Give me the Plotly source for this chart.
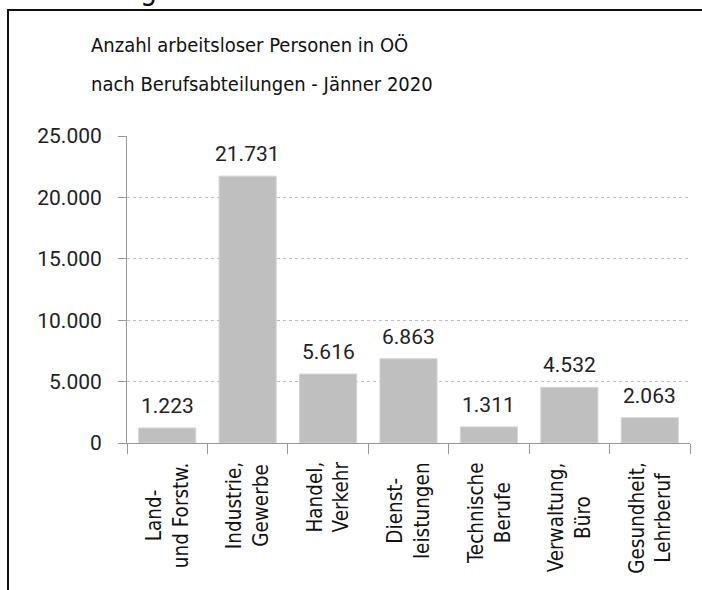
import plotly.graph_objects as go

categories = ["Land-<br>und Forstw.", "Industrie,<br>Gewerbe", "Handel,<br>Verkehr",
              "Dienst-<br>leistungen", "Technische<br>Berufe", "Verwaltung,<br>Büro",
              "Gesundheit,<br>Lehrberuf"]
values = [1223, 21731, 5616, 6863, 1311, 4532, 2063]
title_lines = ["Anzahl arbeitsloser Personen in OÖ", "nach Berufsabteilungen - Jänner 2020"]
y_ticks = [0, 5000, 10000, 15000, 20000, 25000]

W, H = 702, 590
L, R, T, B = 127, 12, 136, 147
pw, ph = W - L - R, H - T - B

def px(x):
    return (x - L) / pw

def py(y):
    return (H - B - y) / ph

NARROW = "Liberation Sans Narrow, DejaVu Sans Condensed, Roboto, sans-serif"
NUM = "Roboto, Liberation Sans, sans-serif"

def fmt(v):
    return f"{v:,}".replace(",", ".")

fig = go.Figure(go.Bar(x=categories, y=values, marker=dict(color="#bfbfbf",
                line=dict(color="#d4d4d4", width=1)), width=0.71))

annotations = []
for c, v in zip(categories, values):
    annotations.append(dict(x=c, y=v, xref="x", yref="y", text=fmt(v), showarrow=False,
                            yanchor="bottom", yshift=8, font=dict(family=NUM, size=21, color="#222")))
for c in categories:
    annotations.append(dict(x=c, y=py(460), xref="x", yref="paper", text=c, showarrow=False,
                            textangle=-90, align="center", xanchor="center", yanchor="top",
                            font=dict(family=NARROW, size=20.5, color="#111")))
for i, t in enumerate(title_lines):
    annotations.append(dict(x=px(89), y=py(45 + 39 * i), xref="paper", yref="paper", text=t,
                            showarrow=False, xanchor="left", yanchor="middle",
                            font=dict(family=NARROW, size=20, color="#111")))
annotations.append(dict(x=px(148), y=py(9), xref="paper", yref="paper", text="g", showarrow=False,
                        xanchor="center", yanchor="bottom", font=dict(family=NARROW, size=30, color="#111")))

fig.update_layout(
    width=W, height=H, margin=dict(l=L, r=R, t=T, b=B, pad=0),
    paper_bgcolor="white", plot_bgcolor="white", showlegend=False,
    separators=",.",
    annotations=annotations,
    shapes=[
        dict(type="line", xref="paper", yref="paper", x0=px(7), x1=px(702), y0=py(10), y1=py(10),
             line=dict(color="#111", width=2)),
        dict(type="line", xref="paper", yref="paper", x0=px(8), x1=px(8), y0=py(9), y1=py(590),
             line=dict(color="#111", width=2)),
    ],
    xaxis=dict(type="category", showline=True, linecolor="#999", linewidth=1, ticks="outside",
               tickson="boundaries", ticklen=10, tickcolor="#999", showticklabels=False,
               showgrid=False, zeroline=False),
    yaxis=dict(range=[0, 25000], tickvals=y_ticks, tickformat=",d", showline=True, linecolor="#999",
               linewidth=1, ticks="outside", ticklen=8, tickcolor="#999", ticklabelstandoff=12,
               showgrid=True, gridcolor="#bbb", griddash="dot", gridwidth=1, zeroline=False,
               tickfont=dict(family=NUM, size=21, color="#222")),
)

fig.write_html("out.html", config={"displayModeBar": False})
